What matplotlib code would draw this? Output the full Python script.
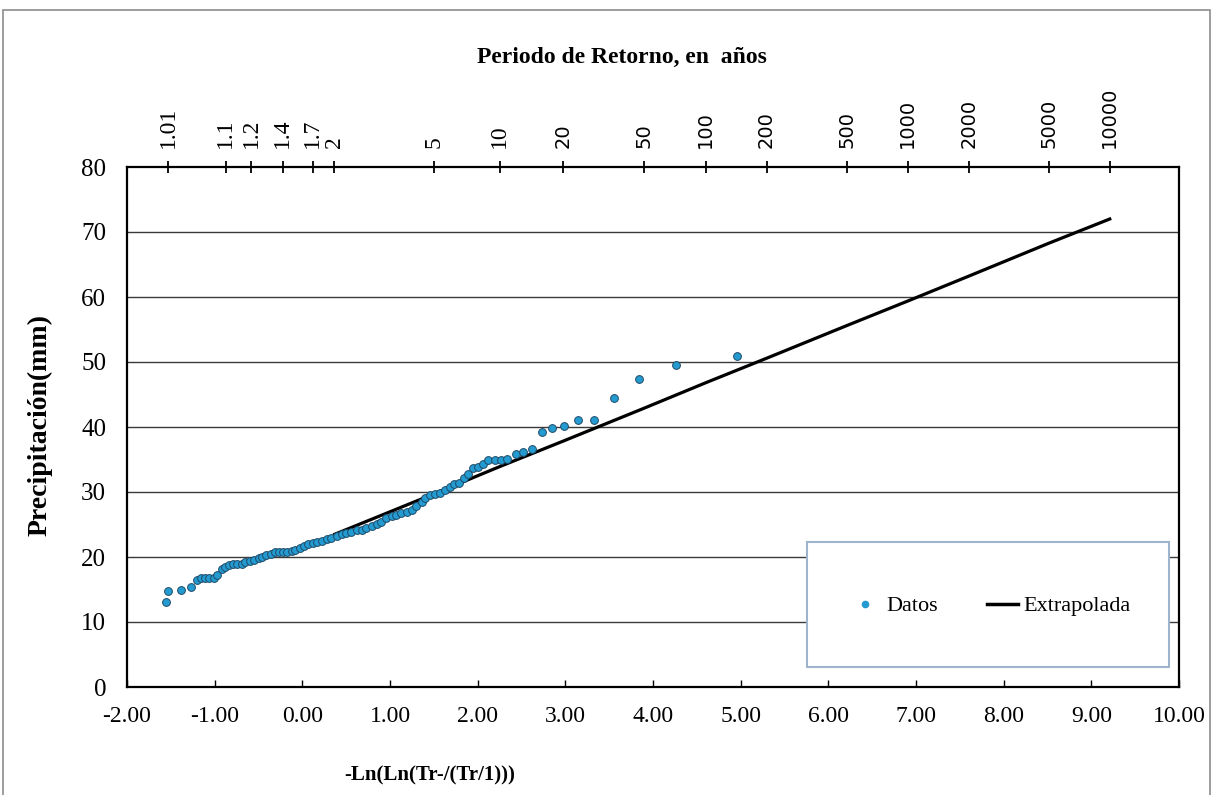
import matplotlib
matplotlib.use("Agg")
import matplotlib.pyplot as plt
from matplotlib.lines import Line2D
from matplotlib.patches import Rectangle
import numpy as np

# ---------------- data ----------------
datos_x = [-1.55, -1.53, -1.38, -1.27, -1.20, -1.16, -1.11, -1.06, -1.01, -0.97,
           -0.92, -0.88, -0.84, -0.79, -0.74, -0.69, -0.65, -0.60, -0.55, -0.50,
           -0.46, -0.41, -0.36, -0.31, -0.27, -0.22, -0.17, -0.12, -0.08, -0.03,
           0.02, 0.07, 0.12, 0.17, 0.22, 0.28, 0.33, 0.39, 0.45, 0.50,
           0.56, 0.62, 0.68, 0.73, 0.79, 0.85, 0.90, 0.96, 1.02, 1.07,
           1.13, 1.19, 1.25, 1.30, 1.36, 1.40, 1.46, 1.51, 1.57, 1.63,
           1.68, 1.73, 1.79, 1.84, 1.89, 1.95, 2.00, 2.06, 2.12, 2.20,
           2.27, 2.34, 2.44, 2.52, 2.62, 2.73, 2.85, 2.99, 3.15, 3.33,
           3.56, 3.84, 4.26, 4.955]
datos_y = [13.1, 14.8, 14.9, 15.4, 16.4, 16.7, 16.7, 16.7, 16.8, 17.3,
           18.2, 18.5, 18.8, 18.9, 18.9, 19.0, 19.2, 19.4, 19.5, 19.9,
           20.0, 20.3, 20.5, 20.7, 20.8, 20.8, 20.8, 20.9, 21.1, 21.4,
           21.7, 22.0, 22.2, 22.35, 22.5, 22.7, 23.0, 23.2, 23.5, 23.7,
           23.9, 24.1, 24.2, 24.4, 24.7, 25.1, 25.4, 26.0, 26.3, 26.5,
           26.7, 27.0, 27.3, 27.8, 28.5, 29.1, 29.5, 29.7, 29.8, 30.3,
           30.8, 31.2, 31.4, 32.2, 32.8, 33.7, 33.9, 34.3, 34.9, 34.9,
           34.9, 35.1, 35.8, 36.2, 36.6, 39.3, 39.8, 40.2, 41.1, 41.1,
           44.5, 47.4, 49.5, 50.9]

ext_x = [0.37, 1.50, 2.25, 2.97, 3.90, 4.60, 5.30, 6.21, 6.91, 7.60, 8.52, 9.21]
ext_y = [23.5, 29.7, 33.9, 37.8, 42.9, 46.8, 50.6, 55.6, 59.4, 63.2, 68.3, 72.0]

x_ticks = [-2, -1, 0, 1, 2, 3, 4, 5, 6, 7, 8, 9, 10]
y_ticks = [0, 10, 20, 30, 40, 50, 60, 70, 80]
tr_values = [1.01, 1.1, 1.2, 1.4, 1.7, 2, 5, 10, 20, 50, 100, 200, 500,
             1000, 2000, 5000, 10000]
tr_labels = ["1.01", "1.1", "1.2", "1.4", "1.7", "2", "5", "10", "20", "50",
             "100", "200", "500", "1000", "2000", "5000", "10000"]

SERIF = "Liberation Serif"

W, H = 1213, 795
fig = plt.figure(figsize=(W / 100, H / 100), dpi=100)

# outer border
fig.patches.append(Rectangle((3 / W, -0.05), (1210 - 3) / W, (795 - 10) / H + 0.05,
                             transform=fig.transFigure, fill=False,
                             edgecolor="#8c8c8c", lw=1.2))

ax = fig.add_axes([127 / W, 1 - 687 / H, (1179 - 127) / W, (687 - 167) / H])
ax.set_xlim(-2, 10)
ax.set_ylim(0, 80)

for yv in y_ticks[1:-1]:
    ax.axhline(yv, color="#3a3a3a", lw=1.0, zorder=1)

ax.plot(ext_x, ext_y, color="black", lw=2.3, zorder=2, label="Extrapolada")
ax.plot(datos_x, datos_y, linestyle="none", marker="o", markersize=5.6,
        markerfacecolor="#249BD0", markeredgecolor="#1E4A68", markeredgewidth=0.7,
        zorder=3)

ax.set_xticks(x_ticks)
ax.set_xticklabels([f"{v:.2f}" for v in x_ticks], fontfamily=SERIF, fontsize=17)
ax.set_yticks(y_ticks)
ax.set_yticklabels([str(v) for v in y_ticks], fontfamily=SERIF, fontsize=18)
ax.tick_params(axis="x", direction="in", length=5, width=1, pad=14)
ax.tick_params(axis="y", length=0, pad=15)
for s in ax.spines.values():
    s.set_linewidth(1.6)
    s.set_color("black")

# top axis: return period
ax2 = ax.twiny()
ax2.set_xlim(ax.get_xlim())
pos = [-np.log(np.log(t / (t - 1.0))) for t in tr_values]
ax2.set_xticks(pos)
ax2.set_xticklabels(tr_labels, rotation=90)
for lbl, t in zip(ax2.get_xticklabels(), tr_values):
    if t <= 10:
        lbl.set_fontfamily(SERIF)
        lbl.set_fontsize(17)
    else:
        lbl.set_fontfamily("DejaVu Sans")
        lbl.set_fontsize(14)
ax2.tick_params(axis="x", direction="inout", length=9, width=1.3, pad=9)
for s in ax2.spines.values():
    s.set_visible(False)

fig.text(622 / W, 1 - 57 / H, "Periodo de Retorno, en  años", ha="center", va="center",
         fontfamily=SERIF, fontweight="bold", fontsize=17)
fig.text(40 / W, 1 - 425 / H, "Precipitación(mm)", ha="center", va="center",
         rotation=90, fontfamily=SERIF, fontweight="bold", fontsize=20)
fig.text(430 / W, 1 - 775 / H, "-Ln(Ln(Tr-/(Tr/1)))", ha="center", va="center",
         fontfamily=SERIF, fontweight="bold", fontsize=15)

# legend box
fig.patches.append(Rectangle((807 / W, 1 - 667 / H), (1169 - 807) / W, (667 - 542) / H,
                             transform=fig.transFigure, facecolor="white",
                             edgecolor="#9fb4cc", lw=1.5, zorder=5))
h1 = Line2D([], [], linestyle="none", marker="o", markersize=4.5,
            markerfacecolor="#249BD0", markeredgecolor="#249BD0")
h2 = Line2D([], [], color="black", lw=2.5)
leg = fig.legend([h1, h2], ["Datos", "Extrapolada"], loc="center",
                 bbox_to_anchor=(990 / W, 1 - 606 / H), ncol=2, frameon=False,
                 prop={"family": SERIF, "size": 16}, handlelength=1.4,
                 handletextpad=0.25, columnspacing=2.2)
leg.set_zorder(6)

fig.savefig("out.png", dpi=100)
